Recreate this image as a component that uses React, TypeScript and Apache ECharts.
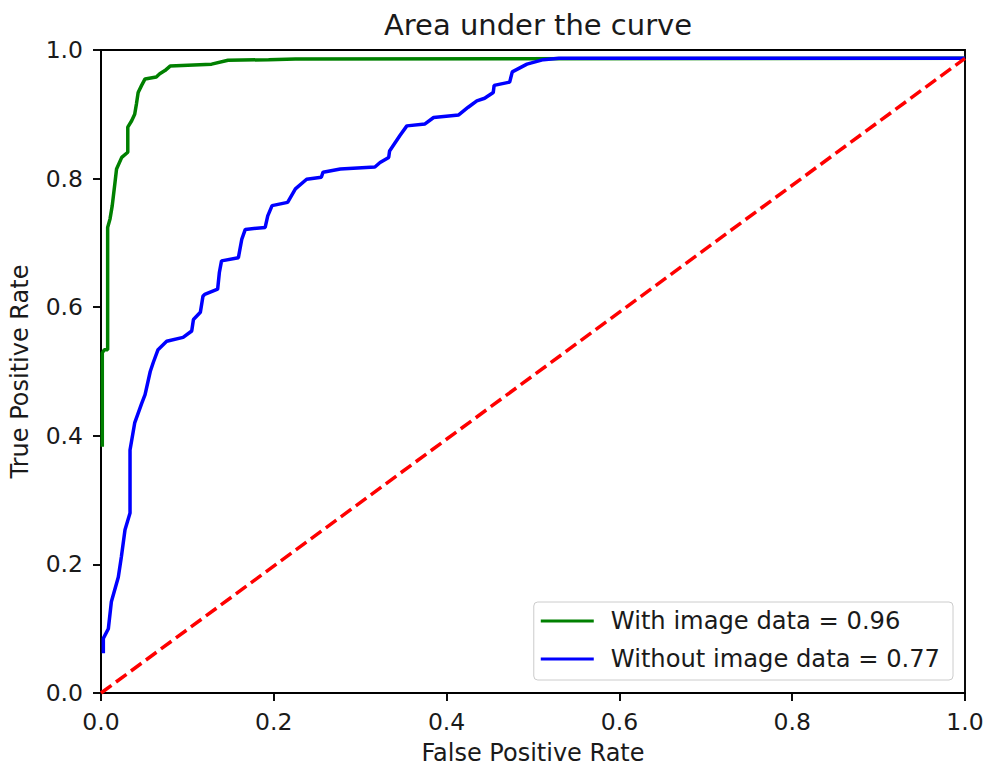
import React, { useEffect, useRef } from "react";
import * as echarts from "echarts";

// ROC curve points (false positive rate, true positive rate)
const withImageFpr = [
  0.0015, 0.0015, 0.0039, 0.0077, 0.0077, 0.0104, 0.013, 0.0162, 0.018, 0.024,
  0.031, 0.031, 0.0355, 0.039, 0.041, 0.043, 0.047, 0.051, 0.064, 0.068, 0.074,
  0.08, 0.128, 0.147, 0.194, 0.225, 1.0,
];
const withImageTpr = [
  0.383, 0.529, 0.534, 0.534, 0.724, 0.737, 0.758, 0.794, 0.815, 0.833, 0.841,
  0.88, 0.89, 0.9, 0.916, 0.934, 0.945, 0.955, 0.958, 0.963, 0.968, 0.975,
  0.978, 0.984, 0.985, 0.986, 0.987,
];

const withoutImageFpr = [
  0.0027, 0.0027, 0.0085, 0.012, 0.02, 0.0236, 0.0278, 0.0336, 0.0336, 0.039,
  0.047, 0.051, 0.057, 0.0605, 0.066, 0.076, 0.095, 0.105, 0.107, 0.115, 0.118,
  0.12, 0.135, 0.137, 0.1395, 0.159, 0.163, 0.167, 0.19, 0.193, 0.198, 0.216,
  0.225, 0.238, 0.255, 0.257, 0.277, 0.317, 0.323, 0.333, 0.334, 0.346, 0.354,
  0.375, 0.385, 0.414, 0.425, 0.435, 0.444, 0.454, 0.455, 0.473, 0.476, 0.493,
  0.512, 0.53, 1.0,
];
const withoutImageTpr = [
  0.062, 0.085, 0.1, 0.142, 0.18, 0.212, 0.254, 0.28, 0.378, 0.42, 0.45, 0.464,
  0.5, 0.514, 0.534, 0.547, 0.553, 0.563, 0.581, 0.592, 0.617, 0.62, 0.628,
  0.654, 0.672, 0.677, 0.706, 0.721, 0.724, 0.742, 0.758, 0.763, 0.784, 0.799,
  0.802, 0.81, 0.815, 0.818, 0.825, 0.833, 0.843, 0.867, 0.882, 0.885, 0.895,
  0.899, 0.911, 0.921, 0.925, 0.934, 0.945, 0.95, 0.966, 0.978, 0.985, 0.987,
  0.987,
];

// chance line
const chanceFpr = [0, 1];
const chanceTpr = [0, 0.987];

const seriesNames = ["With image data = 0.96", "Without image data = 0.77"];
const axisTicks = [0, 0.2, 0.4, 0.6, 0.8, 1.0];

const zip = (xs: number[], ys: number[]) => xs.map((x, i) => [x, ys[i]]);

const FONT = "DejaVu Sans";
const TEXT = "#1a1a1a";

export default function App() {
  const ref = useRef<HTMLDivElement>(null);

  useEffect(() => {
    if (!ref.current) return;
    const chart = echarts.init(ref.current, undefined, { renderer: "svg" });

    const axisCommon = {
      type: "value" as const,
      min: axisTicks[0],
      max: axisTicks[axisTicks.length - 1],
      interval: 0.2,
      splitLine: { show: false },
      axisLine: { show: true, lineStyle: { color: "#000", width: 1.9 } },
      axisTick: {
        show: true,
        inside: false,
        length: 8,
        lineStyle: { color: "#000", width: 1.9 },
      },
      nameTextStyle: {
        fontFamily: FONT,
        fontSize: 24,
        lineHeight: 22,
        color: TEXT,
      },
    };

    chart.setOption({
      animation: false,
      backgroundColor: "#fff",
      title: {
        text: "Area under the curve",
        left: 533,
        textAlign: "center",
        top: 5,
        textStyle: {
          fontFamily: FONT,
          fontSize: 29,
          fontWeight: "normal",
          color: TEXT,
        },
      },
      grid: {
        left: 101,
        right: 22,
        top: 50,
        bottom: 74,
        show: true,
        borderColor: "#000",
        borderWidth: 1.9,
        backgroundColor: "transparent",
        containLabel: false,
        outerBoundsMode: "none",
      },
      xAxis: {
        ...axisCommon,
        name: "False Positive Rate",
        nameLocation: "middle",
        nameGap: 49,
        axisLabel: {
          fontFamily: FONT,
          fontSize: 23.5,
          color: TEXT,
          margin: 17,
          formatter: (v: number) => v.toFixed(1),
        },
      },
      yAxis: {
        ...axisCommon,
        name: "True Positive Rate",
        nameLocation: "middle",
        nameGap: 70,
        axisLabel: {
          fontFamily: FONT,
          fontSize: 23.5,
          color: TEXT,
          margin: 18,
          formatter: (v: number) => v.toFixed(1),
        },
      },
      legend: {
        data: seriesNames,
        orient: "vertical",
        right: 34,
        bottom: 87,
        icon: "rect",
        itemWidth: 53,
        itemHeight: 3,
        itemGap: 14,
        padding: [7, 13, 9, 7],
        backgroundColor: "rgba(255,255,255,0.8)",
        borderColor: "#cccccc",
        borderWidth: 1,
        borderRadius: 4,
        textStyle: {
          fontFamily: FONT,
          fontSize: 24.2,
          color: TEXT,
          padding: [0, 0, 0, 12],
        },
      },
      series: [
        {
          name: seriesNames[0],
          type: "line",
          data: zip(withImageFpr, withImageTpr),
          showSymbol: false,
          symbol: "none",
          lineStyle: { color: "#008000", width: 3.5 },
          itemStyle: { color: "#008000" },
        },
        {
          name: seriesNames[1],
          type: "line",
          data: zip(withoutImageFpr, withoutImageTpr),
          showSymbol: false,
          symbol: "none",
          lineStyle: { color: "#0000ff", width: 3.5 },
          itemStyle: { color: "#0000ff" },
        },
        {
          name: "chance",
          type: "line",
          data: zip(chanceFpr, chanceTpr),
          showSymbol: false,
          symbol: "none",
          lineStyle: { color: "#ff0000", width: 3.5, type: [13, 5.6] },
          itemStyle: { color: "#ff0000" },
        },
      ],
    });

    return () => chart.dispose();
  }, []);

  return (
    <div
      ref={ref}
      style={{
        position: "fixed",
        left: 0,
        top: 0,
        width: 987,
        height: 767,
        background: "#fff",
      }}
    />
  );
}
